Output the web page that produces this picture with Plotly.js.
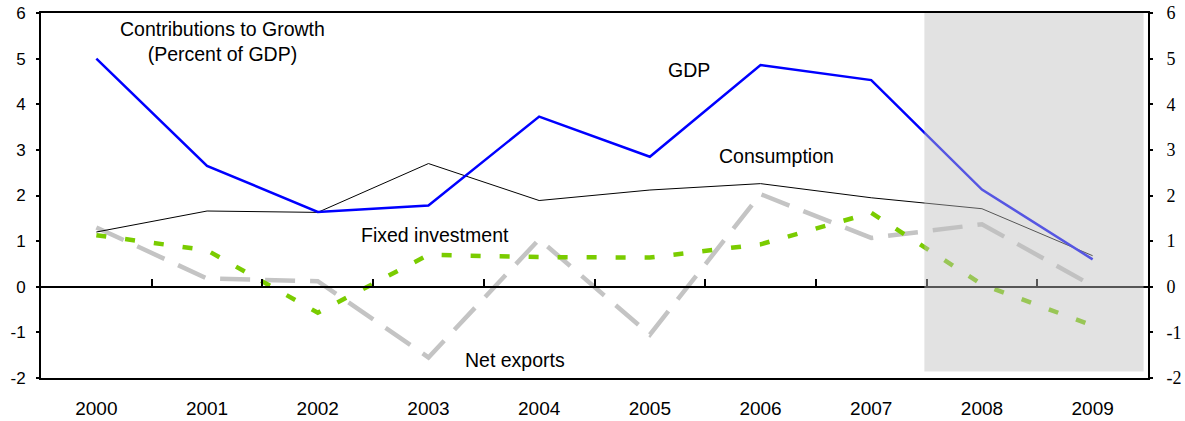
<!DOCTYPE html>
<html>
<head>
<meta charset="utf-8">
<script src="https://cdn.plot.ly/plotly-3.0.1.min.js"></script>
<style>html,body{margin:0;padding:0;background:#fff}#chart{width:1185px;height:421px}</style>
</head>
<body>
<div id="chart"></div>
<script>
const years = ['2000','2001','2002','2003','2004','2005','2006','2007','2008','2009'];
const gdp = [5.0, 2.65, 1.64, 1.78, 3.73, 2.85, 4.86, 4.53, 2.13, 0.60];
const consumption = [1.20, 1.66, 1.63, 2.70, 1.89, 2.12, 2.26, 1.95, 1.71, 0.68];
const fixedInvestment = [1.13, 0.80, -0.57, 0.70, 0.65, 0.64, 0.93, 1.62, 0.05, -0.85];
const netExports = [1.30, 0.18, 0.12, -1.55, 1.04, -1.05, 2.03, 1.07, 1.37, 0.02];
const yTicks = [-2, -1, 0, 1, 2, 3, 4, 5, 6];
const yTickLabels = ['-2', '-1', '0', '1', '2', '3', '4', '5', '6'];
const betweenTicks = [0.5, 1.5, 2.5, 3.5, 4.5, 5.5, 6.5, 7.5, 8.5];
const shadeStart = 7.48, shadeEnd = 9.46, shadeBottom = -1.86, shadeTop = 6;

const sans = "'Liberation Sans', Arial, sans-serif";
const serif = "'Liberation Serif', 'DejaVu Serif', serif";

const traces = [
  {x: years, y: netExports, type: 'scatter', mode: 'lines', name: 'Net exports',
   line: {color: '#c4c4c4', width: 4.5, dash: '30px,15px'}, hoverinfo: 'skip'},
  {x: years, y: fixedInvestment, type: 'scatter', mode: 'lines', name: 'Fixed investment',
   line: {color: '#7acc00', width: 4.5, dash: '10px,19px'}, hoverinfo: 'skip'},
  {x: years, y: consumption, type: 'scatter', mode: 'lines', name: 'Consumption',
   line: {color: '#000000', width: 1}, hoverinfo: 'skip'},
  {x: years, y: gdp, type: 'scatter', mode: 'lines', name: 'GDP',
   line: {color: '#0000ff', width: 2.5}, hoverinfo: 'skip'},
  {x: [null], y: [null], type: 'scatter', mode: 'lines', xaxis: 'x', yaxis: 'y2', showlegend: false, hoverinfo: 'skip'},
  {x: [null], y: [null], type: 'scatter', mode: 'lines', xaxis: 'x2', yaxis: 'y', showlegend: false, hoverinfo: 'skip'}
];

const layout = {
  width: 1185, height: 421,
  margin: {l: 41, r: 37, t: 13, b: 43},
  paper_bgcolor: '#ffffff', plot_bgcolor: '#ffffff',
  showlegend: false,
  font: {family: sans, color: '#000', size: 17},
  xaxis: {
    type: 'category', range: [-0.5, 9.5],
    showline: true, linecolor: '#000', linewidth: 2, mirror: true,
    showgrid: false, zeroline: false, ticks: '',
    tickfont: {family: sans, size: 19},
    ticklabelstandoff: 12
  },
  xaxis2: {
    overlaying: 'x', anchor: 'free', position: 0.25, type: 'linear',
    range: [-0.5, 9.5], showline: true, linecolor: '#000', linewidth: 2,
    showgrid: false, zeroline: false, ticks: 'inside', tickvals: betweenTicks,
    ticklen: 7, tickwidth: 2, tickcolor: '#000', showticklabels: false
  },
  yaxis: {
    range: [-2, 6], tickvals: yTicks, ticktext: yTickLabels, showline: true, linecolor: '#000', linewidth: 2,
    showgrid: false, zeroline: false, ticks: 'outside', ticklen: 3, tickwidth: 2, tickcolor: '#000',
    tickfont: {family: sans, size: 17}, ticklabelstandoff: 7
  },
  yaxis2: {
    overlaying: 'y', side: 'right', range: [-2, 6], tickvals: yTicks, ticktext: yTickLabels,
    showline: true, linecolor: '#000', linewidth: 2,
    showgrid: false, zeroline: false, ticks: 'outside', ticklen: 3, tickwidth: 2, tickcolor: '#000',
    tickfont: {family: serif, size: 18}, ticklabelstandoff: 10
  },
  shapes: [
    {type: 'rect', xref: 'x', yref: 'y', x0: shadeStart, x1: shadeEnd, y0: shadeBottom, y1: shadeTop,
     fillcolor: 'rgb(190,190,190)', opacity: 0.45, line: {width: 0}, layer: 'above'}
  ],
  annotations: [
    {x: 1.14, y: 5.37, xref: 'x', yref: 'y', text: 'Contributions to Growth<br>(Percent of GDP)',
     showarrow: false, font: {family: sans, size: 19.5}, align: 'center'},
    {x: 5.355, y: 4.74, xref: 'x', yref: 'y', text: 'GDP', showarrow: false, font: {family: sans, size: 19.5}},
    {x: 6.14, y: 2.87, xref: 'x', yref: 'y', text: 'Consumption', showarrow: false, font: {family: sans, size: 19.5}},
    {x: 3.06, y: 1.14, xref: 'x', yref: 'y', text: 'Fixed investment', showarrow: false, font: {family: sans, size: 19.5}},
    {x: 3.78, y: -1.6, xref: 'x', yref: 'y', text: 'Net exports', showarrow: false, font: {family: sans, size: 19.5}}
  ]
};

Plotly.newPlot('chart', traces, layout, {displayModeBar: false, staticPlot: true});
</script>
</body>
</html>
